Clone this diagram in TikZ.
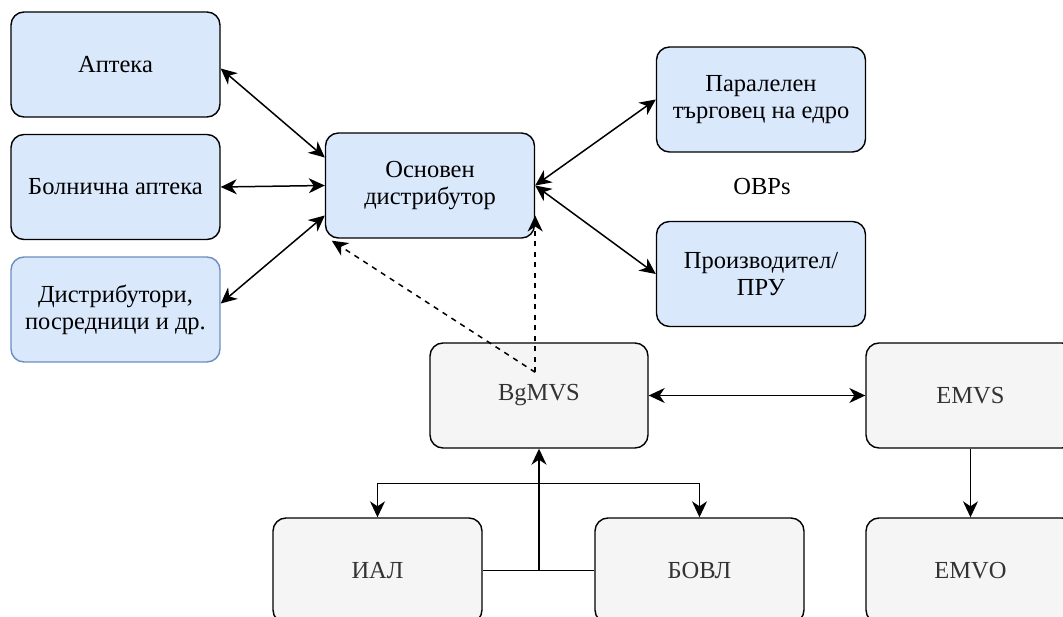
\documentclass[tikz,border=0pt]{standalone}
\usepackage{fontspec}
\setmainfont{Liberation Serif}
\usepackage{tikz}
\usetikzlibrary{arrows.meta, positioning}

\definecolor{boxblue}{HTML}{DAE8FC}
\definecolor{edgeblue}{HTML}{6C8EBF}
\definecolor{boxgray}{HTML}{F5F5F5}
\definecolor{textgray}{HTML}{333333}

\tikzset{
    bluebox/.style={draw, fill=boxblue, rounded corners=13pt, line width=1.4pt,
        minimum width=209pt, minimum height=105pt, align=center,
        font=\fontsize{24.5}{27}\selectfont},
    graybox/.style={bluebox, fill=boxgray, text=textgray},
    head/.tip={Stealth[length=16pt, width=15pt, inset=5pt]},
    link/.style={line width=1.5pt},
    one/.style={link, -head},
    both/.style={link, head-head},
    dlink/.style={one, dash pattern=on 5.25pt off 5.25pt},
}

\begin{document}
\begin{tikzpicture}[x=1pt, y=-1pt, node distance=122.5pt]
    \useasboundingbox (0,0) rectangle (1063,617);
    \clip (0,0) rectangle (1063,617);

    % left column
    \node[bluebox] (apteka) at (115.5,64.5) {Аптека};
    \node[bluebox] (bolnichna) [below of=apteka] {Болнична аптека};
    \node[bluebox, draw=edgeblue] (distrib) [below of=bolnichna] {Дистрибутори,\\посредници и др.};

    % centre and right
    \node[bluebox] (osnoven) at (430,185.5) {Основен\\дистрибутор};
    \node[bluebox] (paralelen) at (761,99.5) {Паралелен\\търговец на едро};
    \node[font=\fontsize{24.5}{27}\selectfont] (obps) at (762,187) {OBPs};
    \node[bluebox] (proizv) at (761,274) {Производител/\\ПРУ};

    % verification systems
    \node[graybox, minimum width=218pt] (bgmvs) at (539,395.5) {BgMVS};
    \node[graybox] (emvs) at (970.5,395.5) {EMVS};
    \node[graybox] (ial) at (377.5,570.5) {ИАЛ};
    \node[graybox] (bovl) at (699.5,570.5) {БОВЛ};
    \node[graybox] (emvo) at (970.5,570.5) {EMVO};

    \coordinate (split) at ([yshift=-35pt]bgmvs.south);
    \coordinate (join) at (ial.east -| bgmvs.south);
    \coordinate (bgtop) at ([yshift=-30pt]osnoven.east |- bgmvs.north);

    \path
        ([yshift=-4pt]apteka.east) edge [both] ([yshift=28pt]osnoven.west)
        (bolnichna.east) edge [both] (osnoven.west)
        ([yshift=6pt]distrib.east) edge [both] ([yshift=-30pt]osnoven.west)
        (osnoven.east) edge [both] (paralelen.west)
                       edge [both] (proizv.west)
        (bgmvs.east) edge [both] (emvs.west)
        (emvs.south) edge [one] (emvo.north);

    \draw[dlink] (bgtop) -- ([xshift=7pt, yshift=-2pt]osnoven.south west);
    \draw[dlink] (bgtop) -- ([yshift=-30pt]osnoven.east);

    \draw[link] (ial.east) -- (bovl.west);
    \draw[one] (join) -- (bgmvs.south);
    \draw[one] (split) -| (ial.north);
    \draw[one] (split) -| (bovl.north);
\end{tikzpicture}
\end{document}
